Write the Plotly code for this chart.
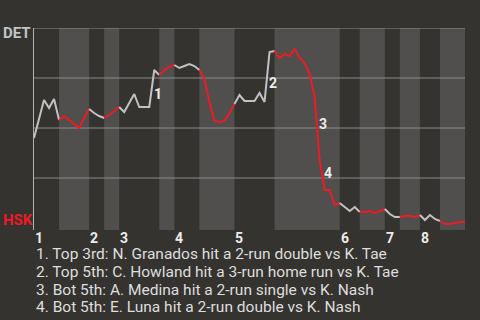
import plotly.graph_objects as go

# Win expectancy for DET (percent) after each plate appearance
pa = list(range(87))
det_wp = [
    45, 54, 64, 60, 64.5, 54, 56, 54, 52, 50,
    55, 59.5, 57.5, 56, 55, 56.5, 58.5, 60.5, 58, 62.5,
    67, 60.5, 60.5, 60.5, 79, 76.5, 79, 80.5, 81.5, 80,
    81, 82, 81, 79, 74.5, 63, 53.5, 53, 53.5, 57.5,
    62, 66.5, 63.5, 63.5, 63.5, 67.5, 63, 88, 88.5, 85,
    87, 86, 89.5, 85, 82.5, 77, 65.5, 34, 19, 19,
    11.5, 12.5, 10.5, 8.5, 10.5, 8, 8, 8.5, 7.5, 8.5,
    9.5, 7, 5.5, 5.5, 6, 6, 5.5, 6.5, 4, 6.5,
    4.5, 3.5, 2, 2, 2.5, 3, 3,
]

# Plate-appearance index where each half inning begins (top 1 ... bottom 8, end)
half_bounds = [0, 5, 11, 14, 17, 25, 28, 33, 40, 48, 61, 65, 70, 73, 77, 81, 86]
inning_labels = ["1", "2", "3", "4", "5", "6", "7", "8"]

# Key plays: the PA just before the swing in win expectancy
event_pa = [23, 46, 56, 57]
event_marks = ["1", "2", "3", "4"]
event_text = [
    "1. Top 3rd: N. Granados hit a 2-run double vs K. Tae",
    "2. Top 5th: C. Howland hit a 3-run home run vs K. Tae",
    "3. Bot 5th: A. Medina hit a 2-run single vs K. Nash",
    "4. Bot 5th: E. Luna hit a 2-run double vs K. Nash",
]

away_team, home_team = "DET", "HSK"

BG = "#353330"
BAND = "#504f4d"
GRID = "#8c8b89"
AWAY_LINE = "#c2c2c2"
HOME_LINE = "#ee1a24"
FONT = "Roboto"

fig = go.Figure()

# one line piece per half inning: away batting in light gray, home batting in red
for i in range(len(half_bounds) - 1):
    a, b = half_bounds[i], half_bounds[i + 1]
    fig.add_trace(go.Scatter(
        x=pa[a:b + 1], y=det_wp[a:b + 1], mode="lines",
        line=dict(color=AWAY_LINE if i % 2 == 0 else HOME_LINE, width=2),
        hoverinfo="skip", showlegend=False,
    ))

shapes = []
# lighter bands behind the bottom halves
for i in range(1, len(half_bounds) - 1, 2):
    shapes.append(dict(type="rect", xref="x", yref="paper",
                       x0=half_bounds[i], x1=half_bounds[i + 1], y0=0, y1=1,
                       fillcolor=BAND, line_width=0, layer="below"))
# horizontal guides at quarter steps
for v in [25, 50, 75, 100]:
    shapes.append(dict(type="line", xref="paper", yref="y", x0=0, x1=1, y0=v, y1=v,
                       line=dict(color=GRID, width=1), layer="below"))

annotations = []
# inning numbers at the start of each inning
for k, lab in enumerate(inning_labels):
    annotations.append(dict(x=half_bounds[2 * k], y=-1, xref="x", yref="y",
                            text=f"<b>{lab}</b>", showarrow=False, borderpad=0,
                            xanchor="left", yanchor="top", xshift=0, yshift=1,
                            font=dict(family=FONT, size=14, color="#ececec")))

# numbered markers beside the big swings
label_dy = [-5, -6, 5, 2]
for e, m, dy in zip(event_pa, event_marks, label_dy):
    annotations.append(dict(x=e + 0.5, y=(det_wp[e] + det_wp[e + 1]) / 2,
                            xref="x", yref="y", text=f"<b>{m}</b>", showarrow=False,
                            xanchor="center", yanchor="middle", xshift=6, yshift=dy,
                            borderpad=0,
                            font=dict(family=FONT, size=14, color="#ececec")))

# team names on the left edge
annotations.append(dict(x=-0.074, y=97.5, xref="paper", yref="y",
                        text=f"<b>{away_team}</b>", showarrow=False, borderpad=0,
                        xanchor="left", yanchor="middle",
                        font=dict(family=FONT, size=15, color="#c4c4c4")))
annotations.append(dict(x=-0.074, y=4, xref="paper", yref="y",
                        text=f"<b>{home_team}</b>", showarrow=False, borderpad=0,
                        xanchor="left", yanchor="middle",
                        font=dict(family=FONT, size=15, color=HOME_LINE)))

# play descriptions under the chart
for j, line in enumerate(event_text):
    annotations.append(dict(x=0.003, y=-0.118 - j * 0.0885, xref="paper", yref="paper",
                            text=line, showarrow=False, borderpad=0,
                            xanchor="left", yanchor="middle",
                            font=dict(family=FONT, size=15.5, color="#dedede")))

fig.update_layout(
    width=480, height=320,
    margin=dict(l=34, r=15, t=28, b=90),
    paper_bgcolor=BG, plot_bgcolor=BG,
    shapes=shapes, annotations=annotations,
    xaxis=dict(range=[0, 86], showgrid=False, zeroline=False,
               showticklabels=False, ticks="", showline=False),
    yaxis=dict(range=[-1, 100], showgrid=False, zeroline=False,
               showticklabels=False, ticks="",
               showline=True, linecolor="#b4b4b4", linewidth=1),
    showlegend=False,
)

fig.write_html("out.html")
